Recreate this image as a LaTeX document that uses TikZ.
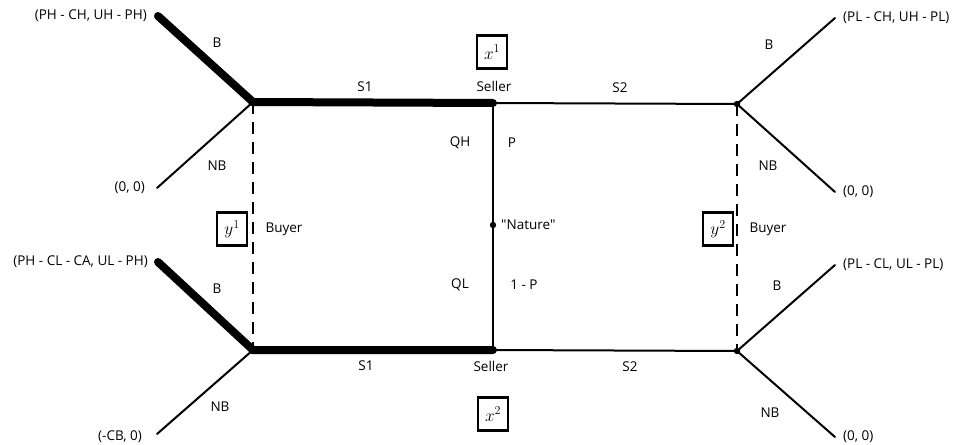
\documentclass[tikz,border=0pt]{standalone}
\usepackage{fontspec}
\setmainfont{Open Sans}
\usepackage{tikz}
\usetikzlibrary{positioning,calc}

\begin{document}
\begin{tikzpicture}[x=1pt,y=-1pt]
\tikzset{every node/.style={font=\fontsize{13.5}{16}\selectfont,inner sep=0pt}}
\tikzset{thin edge/.style={draw,line width=2pt,line cap=round}}
\tikzset{thick edge/.style={draw,line width=8pt,line cap=round,line join=miter}}
\tikzset{info set/.style={draw,line width=2pt,dash pattern=on 12pt off 8pt}}
\tikzset{belief/.style={draw,line width=2.2pt,inner sep=4pt,minimum width=30pt,minimum height=33pt,font=\fontsize{17}{19}\selectfont}}
\tikzset{pay left/.style={anchor=east}}
\tikzset{pay right/.style={anchor=west}}
\useasboundingbox (0,0) rectangle (960,444);
% decision nodes
\coordinate (nature) at (493,225);
\coordinate (sellH) at (493,103);
\coordinate (sellL) at (493,350);
\coordinate (buyH1) at (253,102);
\coordinate (buyL1) at (253,350);
\coordinate (buyH2) at (737,104);
\coordinate (buyL2) at (737,351);
% terminal nodes
\coordinate (endHB1) at (158,16);
\coordinate (endHN1) at (157,188);
\coordinate (endLB1) at (158,262);
\coordinate (endLN1) at (157,434);
\coordinate (endHB2) at (835,18);
\coordinate (endHN2) at (835,192);
\coordinate (endLB2) at (835,265);
\coordinate (endLN2) at (835,437);
% edges
\draw[thin edge] (sellH) -- (nature) -- (sellL);
\draw[thin edge] (sellH) -- (buyH2);
\draw[thin edge] (sellL) -- (buyL2);
\draw[thin edge] (buyH1) -- (endHN1);
\draw[thin edge] (buyL1) -- (endLN1);
\draw[thin edge] (endHB2) -- (buyH2) -- (endHN2);
\draw[thin edge] (endLB2) -- (buyL2) -- (endLN2);
\draw[thick edge] (endHB1) -- (buyH1) -- (sellH);
\draw[thick edge] (endLB1) -- (buyL1) -- (sellL);
\draw[info set] (buyH1) -- (buyL1);
\draw[info set] (buyH2) -- (buyL2);
\foreach \p in {nature,sellH,sellL,buyH2,buyL2}
  \fill (\p) circle (3.2pt);
% players and beliefs
\node (sellerH) at (494,86) {Seller};
\node (sellerL) at (491,366) {Seller};
\node (natLbl) [anchor=west] at (501,225) {\textquotedbl Nature\textquotedbl};
\node (buyer1) at (284,229) {Buyer};
\node (buyer2) at (768,229) {Buyer};
\node[belief] (x1) at (492,52) {$x^1$};
\node[belief] (x2) at (493,414) {$x^2$};
\node[belief] (y1) at (232,229) {$y^1$};
\node[belief] (y2) at (718,229) {$y^2$};
% action labels
\node (qh) at (460,143) {QH};
\node (p) at (512,143) {P};
\node (ql) at (460,285) {QL};
\node (oneminusp) at (524,285) {1 - P};
\node (s1H) at (365,87) {S1};
\node (s2H) at (620,88) {S2};
\node (s1L) at (366,366) {S1};
\node (s2L) at (630,367) {S2};
\node (bH1) at (217,43) {B};
\node (nbH1) at (217,166) {NB};
\node (bL1) at (217,289) {B};
\node (nbL1) at (220,407) {NB};
\node (bH2) at (769,45) {B};
\node (nbH2) at (768,166) {NB};
\node (bL2) at (777,286) {B};
\node (nbL2) at (770,413) {NB};
% payoffs
\node[pay left] (payHB1) at (147,16) {(PH - CH, UH - PH)};
\node[pay left] (payHN1) at (145,188) {(0, 0)};
\node[pay left] (payLB1) at (148,262) {(PH - CL - CA, UL - PH)};
\node[pay left] (payLN1) at (142,437) {(-CB, 0)};
\node[pay right] (payHB2) at (843,18) {(PL - CH, UH - PL)};
\node[pay right] (payHN2) at (843,192) {(0, 0)};
\node[pay right] (payLB2) at (843,265) {(PL - CL, UL - PL)};
\node[pay right] (payLN2) at (843,437) {(0, 0)};
\end{tikzpicture}
\end{document}
